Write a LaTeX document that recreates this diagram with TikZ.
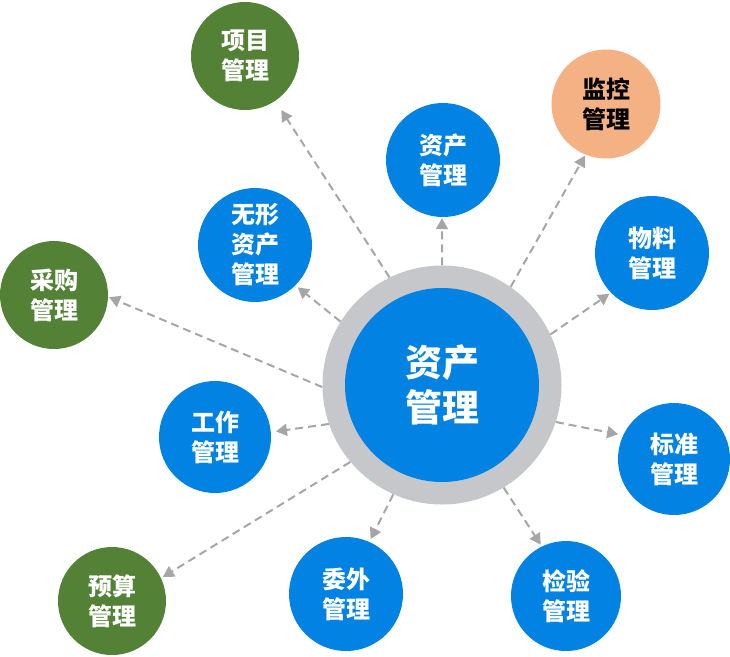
\documentclass[tikz,border=0pt]{standalone}
\usepackage{fontspec}
\newfontfamily\cjk{Noto Sans CJK SC}
\usetikzlibrary{arrows.meta}
\definecolor{ballblue}{RGB}{2,130,226}
\definecolor{ballgreen}{RGB}{83,129,53}
\definecolor{ballorange}{RGB}{244,177,131}
\definecolor{ringgray}{RGB}{197,199,203}
\definecolor{linkgray}{RGB}{166,166,166}

\begin{document}
\begin{tikzpicture}[x=1pt,y=-1pt]
\tikzstyle{every node}+=[inner sep=0pt, circle, align=center]
\tikzstyle{ball}=[font=\cjk\bfseries\fontsize{24}{30}\selectfont, text=white]
\tikzstyle{blueball}=[ball, fill=ballblue, minimum size=114pt]
\tikzstyle{greenball}=[ball, fill=ballgreen, minimum size=108pt]
\tikzstyle{orangeball}=[ball, fill=ballorange, text=black, minimum size=109pt]
\tikzstyle{link}=[linkgray, line width=2pt, dash pattern=on 8pt off 5pt, -{Triangle[length=11pt,width=12pt]}]
\useasboundingbox (0,0) rectangle (730,656);
% centre
\node [fill=ringgray, minimum size=239pt] (hub) at (442,385) {};
\node [fill=ballblue, minimum size=194pt, text=white, font=\cjk\bfseries\fontsize{37}{45}\selectfont] (core) at (442,385) {资产\\管理};
% satellites
\node [greenball] (xiangmu) at (245,56) {项目\\管理};
\node [orangeball] (jiankong) at (606,104) {监控\\管理};
\node [blueball] (zichan) at (443,160) {资产\\管理};
\node [blueball] (wuxing) at (255,245) {无形\\资产\\管理};
\node [blueball] (wuliao) at (652,253) {物料\\管理};
\node [greenball] (caigou) at (54,295) {采购\\管理};
\node [blueball, minimum size=112pt] (gongzuo) at (215,437) {工作\\管理};
\node [blueball, minimum size=112pt] (biaozhun) at (674,459) {标准\\管理};
\node [greenball] (yusuan) at (112,601) {预算\\管理};
\node [blueball] (weiwai) at (346,594) {委外\\管理};
\node [blueball, minimum size=110pt] (jianyan) at (566,596) {检验\\管理};
% links
\draw [link, shorten >=11pt] (hub.116) -- (xiangmu.-56);
\draw [link, shorten >=1pt] (hub.90) -- (zichan.-91);
\draw [link, shorten >=1pt] (hub.55) -- (jiankong.248);
\draw [link, shorten >=2pt] (hub.25) -- (wuliao.224);
\draw [link, shorten >=5pt] (hub.-18) -- (biaozhun.155);
\draw [link, shorten >=2pt] (hub.-59) -- (jianyan.116);
\draw [link, shorten >=3pt] (hub.-114) -- (weiwai.66);
\draw [link, shorten >=2pt] (hub.-140) -- (yusuan.25);
\draw [link, shorten >=5pt] (hub.199) -- (gongzuo.5);
\draw [link, shorten >=1pt] (hub.181) -- (caigou.-2);
\draw [link, shorten >=3pt] (hub.148) -- (wuxing.-45);
\end{tikzpicture}
\end{document}
